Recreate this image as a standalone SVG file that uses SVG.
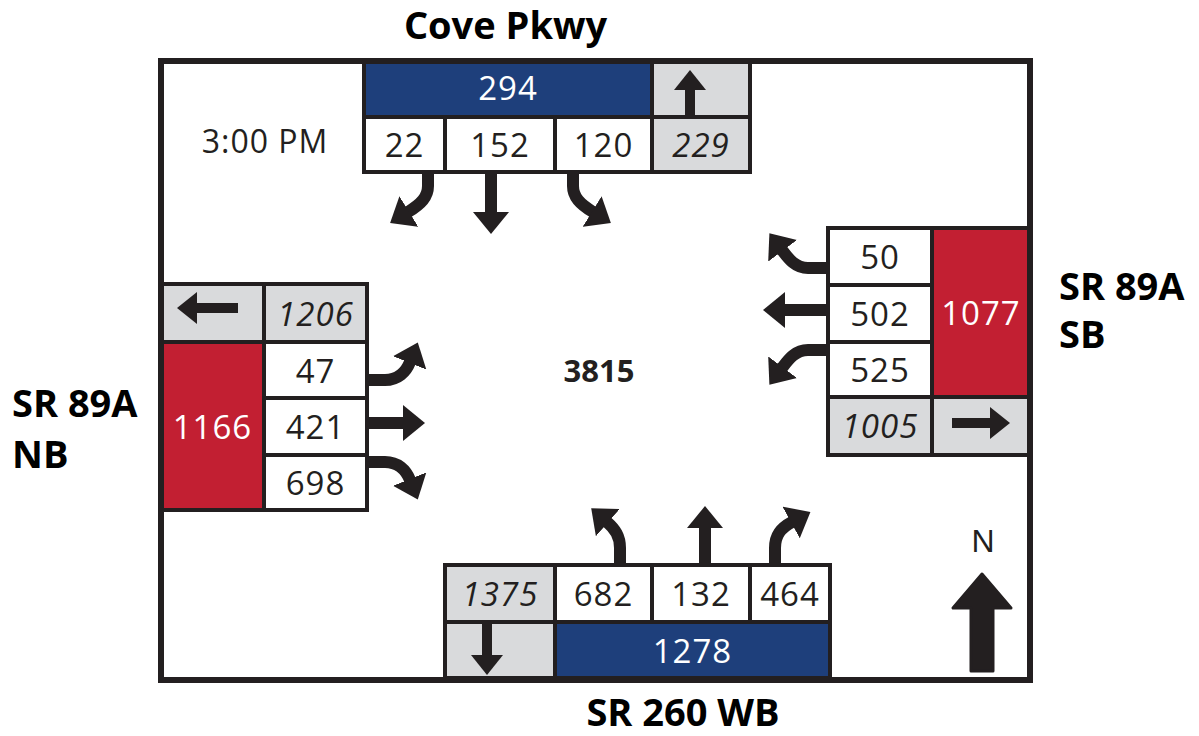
<svg xmlns="http://www.w3.org/2000/svg" width="1199" height="736" viewBox="0 0 1199 736">
<defs>
<style>
.c{stroke:#231f20;stroke-width:4}
.w{fill:#ffffff}
.g{fill:#d9dadc}
.b{fill:#1e3f7b}
.r{fill:#c21f32}
.t{font-family:"Open Sans","Liberation Sans",sans-serif;font-size:33px;letter-spacing:1px;fill:#231f20;text-anchor:middle}
.i{font-style:italic}
.wt{fill:#ffffff}
.h{font-family:"Open Sans","Liberation Sans",sans-serif;font-weight:bold;font-size:38px;fill:#000000}
.mv{fill:none;stroke:#231f20;stroke-width:12;marker-end:url(#ah)}
.gv{fill:none;stroke:#231f20;stroke-width:10;marker-end:url(#ah2)}
</style>
<marker id="ah" markerUnits="userSpaceOnUse" markerWidth="22" markerHeight="36" viewBox="0 0 22 36" refX="1" refY="18" orient="auto"><path d="M0,0 L22,18 L0,36 z" fill="#231f20"/></marker>
<marker id="ah2" markerUnits="userSpaceOnUse" markerWidth="20" markerHeight="32" viewBox="0 0 20 32" refX="1" refY="16" orient="auto"><path d="M0,0 L20,16 L0,32 z" fill="#231f20"/></marker>
</defs>
<rect x="0" y="0" width="1199" height="736" fill="#ffffff"/>

<g id="north-approach">
<rect class="c b" x="364" y="61" width="288" height="56"/>
<rect class="c g" x="652" y="61" width="98" height="56"/>
<rect class="c w" x="364" y="117" width="81" height="55"/>
<rect class="c w" x="445" y="117" width="110" height="55"/>
<rect class="c w" x="555" y="117" width="97" height="55"/>
<rect class="c g" x="652" y="117" width="98" height="55"/>
<text class="t wt" x="508" y="100">294</text>
<text class="t" x="404.5" y="157">22</text>
<text class="t" x="500" y="157">152</text>
<text class="t" x="603.5" y="157">120</text>
<text class="t i" x="701" y="157">229</text>
<path class="gv" d="M690,116 V89"/>
</g>

<g id="east-approach">
<rect class="c w" x="828" y="228" width="104" height="57"/>
<rect class="c w" x="828" y="285" width="104" height="57"/>
<rect class="c w" x="828" y="342" width="104" height="55"/>
<rect class="c g" x="828" y="397" width="104" height="58"/>
<rect class="c g" x="932" y="397" width="98" height="58"/>
<rect class="c r" x="932" y="228" width="98" height="169"/>
<text class="t" x="880" y="269">50</text>
<text class="t" x="880" y="326">502</text>
<text class="t" x="880" y="382">525</text>
<text class="t i" x="880" y="438">1005</text>
<text class="t wt" x="981" y="325">1077</text>
<path class="gv" d="M952,423 H991"/>
</g>

<g id="west-approach">
<rect class="c g" x="161" y="284" width="103" height="58"/>
<rect class="c g" x="264" y="284" width="103" height="58"/>
<rect class="c r" x="161" y="342" width="103" height="168"/>
<rect class="c w" x="264" y="342" width="103" height="56"/>
<rect class="c w" x="264" y="398" width="103" height="57"/>
<rect class="c w" x="264" y="455" width="103" height="55"/>
<text class="t i" x="315.5" y="326">1206</text>
<text class="t" x="315.5" y="383">47</text>
<text class="t" x="315.5" y="439">421</text>
<text class="t" x="315.5" y="495">698</text>
<text class="t wt" x="212.5" y="439">1166</text>
<path class="gv" d="M238,308 H196"/>
</g>

<g id="south-approach">
<rect class="c g" x="445" y="565" width="110" height="57"/>
<rect class="c w" x="555" y="565" width="97" height="57"/>
<rect class="c w" x="652" y="565" width="98" height="57"/>
<rect class="c w" x="750" y="565" width="80" height="57"/>
<rect class="c g" x="445" y="622" width="110" height="56"/>
<rect class="c b" x="555" y="622" width="275" height="56"/>
<text class="t i" x="500" y="606">1375</text>
<text class="t" x="603.5" y="606">682</text>
<text class="t" x="701" y="606">132</text>
<text class="t" x="790" y="606">464</text>
<text class="t wt" x="692.5" y="663">1278</text>
<path class="gv" d="M487,623 V656"/>
</g>

<g id="connectors">
<path class="mv" d="M428,172 V186 C428,197 421,204 408,212"/>
<path class="mv" d="M491,172 V213"/>
<path class="mv" d="M573,172 V186 C573,197 580,204 593,212"/>
<path class="mv" d="M828,268 H808 C795,268 788,258 782,250"/>
<path class="mv" d="M828,310 H784"/>
<path class="mv" d="M828,350 H808 C795,350 788,360 782,368"/>
<path class="mv" d="M367,380 H385 C398,380 406,372 410,362"/>
<path class="mv" d="M367,423 H404"/>
<path class="mv" d="M367,462 H385 C398,462 406,470 410,480"/>
<path class="mv" d="M620,565 V548 C620,536 615,529 607,522"/>
<path class="mv" d="M705,565 V527"/>
<path class="mv" d="M775,565 V548 C775,535 781,528 792,522"/>
</g>

<rect x="161" y="61" width="869" height="619" fill="none" stroke="#231f20" stroke-width="6"/>

<g id="labels">
<text class="h" x="505.5" y="39" text-anchor="middle" font-size="36">Cove Pkwy</text>
<text class="h" x="683" y="726" text-anchor="middle" font-size="36">SR 260 WB</text>
<text class="h" x="1059" y="300">SR 89A</text>
<text class="h" x="1059" y="348">SB</text>
<text class="h" x="12" y="417">SR 89A</text>
<text class="h" x="12" y="468">NB</text>
<text x="265" y="153" font-family="Open Sans, Liberation Sans, sans-serif" font-size="32" letter-spacing="1" fill="#231f20" text-anchor="middle">3:00 PM</text>
<text x="599" y="382" font-family="Open Sans, Liberation Sans, sans-serif" font-size="31" font-weight="bold" fill="#231f20" text-anchor="middle">3815</text>
</g>

<g id="north-arrow">
<text x="983" y="552" font-family="Liberation Sans, Arial, sans-serif" font-size="32" fill="#231f20" text-anchor="middle">N</text>
<polygon points="982,574 953,608 971,608 971,671 993,671 993,608 1011,608" fill="#231f20" stroke="#231f20" stroke-width="3" stroke-linejoin="round"/>
</g>
</svg>
